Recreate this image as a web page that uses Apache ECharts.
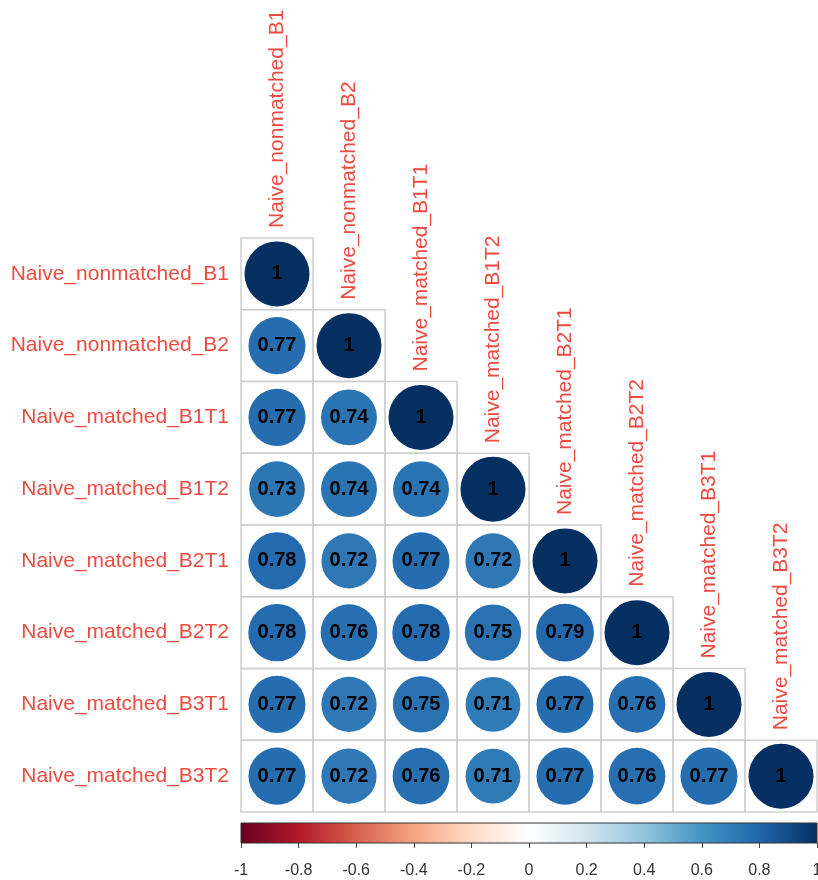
<!DOCTYPE html>
<html>
<head>
<meta charset="utf-8">
<script src="https://cdn.jsdelivr.net/npm/echarts@6/dist/echarts.min.js"></script>
<style>
  html, body { margin: 0; padding: 0; background: #fff; }
  #chart { width: 818px; height: 880px; }
</style>
</head>
<body>
<div id="chart"></div>
<script>
// Variable names (rows top to bottom, columns left to right)
const varNames = [
  'Naive_nonmatched_B1',
  'Naive_nonmatched_B2',
  'Naive_matched_B1T1',
  'Naive_matched_B1T2',
  'Naive_matched_B2T1',
  'Naive_matched_B2T2',
  'Naive_matched_B3T1',
  'Naive_matched_B3T2'
];

// Lower triangle of the correlation matrix, one array per row
const rowB1   = [1];
const rowB2   = [0.77, 1];
const rowB1T1 = [0.77, 0.74, 1];
const rowB1T2 = [0.73, 0.74, 0.74, 1];
const rowB2T1 = [0.78, 0.72, 0.77, 0.72, 1];
const rowB2T2 = [0.78, 0.76, 0.78, 0.75, 0.79, 1];
const rowB3T1 = [0.77, 0.72, 0.75, 0.71, 0.77, 0.76, 1];
const rowB3T2 = [0.77, 0.72, 0.76, 0.71, 0.77, 0.76, 0.77, 1];
const lowerRows = [rowB1, rowB2, rowB1T1, rowB1T2, rowB2T1, rowB2T2, rowB3T1, rowB3T2];

// Colour bar ticks
const barTicks = [-1, -0.8, -0.6, -0.4, -0.2, 0, 0.2, 0.4, 0.6, 0.8, 1];

// RdBu diverging palette, from -1 to 1
const rdbu = ['#67001F', '#B2182B', '#D6604D', '#F4A582', '#FDDBC7', '#FFFFFF',
              '#D1E5F0', '#92C5DE', '#4393C3', '#2166AC', '#053061'];

const FONT = '"Liberation Sans", Arial, Helvetica, sans-serif';
const LABEL_RED = '#EE4B40';

const cellData = [];
const circleData = [];
lowerRows.forEach((row, i) => {
  row.forEach((v, j) => {
    cellData.push([j, i]);
    circleData.push([j, i, v]);
  });
});
const diagData = varNames.map((n, i) => [i, i, n]);

function fmt(v) {
  if (v === 1) return '1';
  return String(Math.round(v * 100) / 100);
}

const chart = echarts.init(document.getElementById('chart'), null, { renderer: 'canvas' });

chart.setOption({
  backgroundColor: '#ffffff',
  animation: false,
  grid: [
    { left: 241, top: 238, width: 576, height: 574, outerBoundsMode: 'none', containLabel: false },
    { left: 241, top: 823, width: 576, height: 20, outerBoundsMode: 'none', containLabel: false }
  ],
  xAxis: [
    {
      gridIndex: 0, type: 'category', data: varNames,
      axisLine: { show: false }, axisTick: { show: false },
      axisLabel: { show: false }, splitLine: { show: false }
    },
    {
      gridIndex: 1, type: 'value', min: -1, max: 1, interval: 0.2,
      axisLine: { show: false },
      axisTick: { show: true, length: 5, lineStyle: { color: '#444', width: 1 } },
      splitLine: { show: false },
      axisLabel: {
        margin: 20, fontSize: 16, color: '#333', fontFamily: FONT,
        formatter: v => String(Math.round(v * 10) / 10)
      }
    }
  ],
  yAxis: [
    {
      gridIndex: 0, type: 'category', data: varNames, inverse: true,
      axisLine: { show: false }, axisTick: { show: false }, splitLine: { show: false },
      axisLabel: { margin: 12, fontSize: 21, color: LABEL_RED, fontFamily: FONT }
    },
    {
      gridIndex: 1, type: 'value', min: 0, max: 1, show: false
    }
  ],
  visualMap: {
    show: false, type: 'continuous', min: -1, max: 1,
    dimension: 2, seriesIndex: 1,
    inRange: { color: rdbu }
  },
  series: [
    {
      // cell outlines of the lower triangle
      type: 'custom', xAxisIndex: 0, yAxisIndex: 0, silent: true,
      data: cellData,
      renderItem: function (params, api) {
        const c = api.coord([api.value(0), api.value(1)]);
        const s = api.size([1, 1]);
        return {
          type: 'rect',
          shape: { x: c[0] - s[0] / 2, y: c[1] - s[1] / 2, width: s[0], height: s[1] },
          style: { fill: 'none', stroke: '#CFCFCF', lineWidth: 1.5 }
        };
      },
      z: 1
    },
    {
      // correlation circles, area proportional to |r|
      type: 'scatter', xAxisIndex: 0, yAxisIndex: 0,
      data: circleData,
      symbol: 'circle',
      symbolSize: d => 65 * Math.sqrt(Math.abs(d[2])),
      itemStyle: { opacity: 1 },
      label: {
        show: true, position: 'inside',
        formatter: p => fmt(p.value[2]),
        color: '#000', fontSize: 20, fontWeight: 'bold', fontFamily: FONT
      },
      emphasis: { disabled: true },
      z: 2
    },
    {
      // column names above the diagonal cells
      type: 'custom', xAxisIndex: 0, yAxisIndex: 0, silent: true,
      data: diagData,
      renderItem: function (params, api) {
        const idx = params.dataIndex;
        const c = api.coord([idx, idx]);
        const s = api.size([1, 1]);
        return {
          type: 'text',
          x: c[0],
          y: c[1] - s[1] / 2 - 10,
          rotation: Math.PI / 2,
          style: {
            text: varNames[idx],
            fill: LABEL_RED,
            font: '21px ' + FONT,
            textAlign: 'left',
            textVerticalAlign: 'middle',
            align: 'left',
            verticalAlign: 'middle'
          }
        };
      },
      z: 3
    },
    {
      // colour bar
      type: 'custom', xAxisIndex: 1, yAxisIndex: 1, silent: true,
      data: [[barTicks[0], barTicks[barTicks.length - 1]]],
      renderItem: function (params, api) {
        const p0 = api.coord([api.value(0), 1]);
        const p1 = api.coord([api.value(1), 0]);
        const stops = rdbu.map((c, k) => ({ offset: k / (rdbu.length - 1), color: c }));
        return {
          type: 'rect',
          shape: { x: p0[0], y: p0[1], width: p1[0] - p0[0], height: p1[1] - p0[1] },
          style: {
            fill: new echarts.graphic.LinearGradient(0, 0, 1, 0, stops),
            stroke: '#333', lineWidth: 1
          }
        };
      }
    }
  ]
});
</script>
</body>
</html>
